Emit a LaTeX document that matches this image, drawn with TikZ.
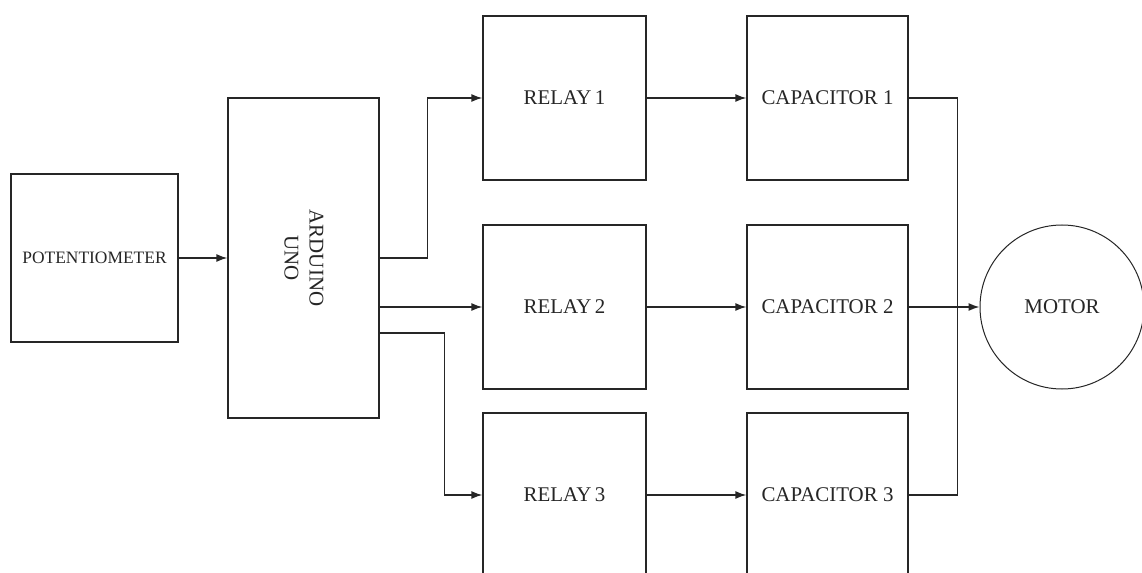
\documentclass[tikz,border=0pt]{standalone}
\usepackage{fontspec}
\setmainfont{Liberation Serif}
\usetikzlibrary{arrows.meta}
\definecolor{ink}{HTML}{262626}
\tikzset{
  blk/.style={draw=ink, line width=1.3bp, fill=white, text=ink, align=center,
    inner sep=0pt, font=\fontsize{21}{25}\selectfont},
  relaybox/.style={blk, minimum width=163bp, minimum height=164bp},
  capbox/.style={blk, minimum width=161bp, minimum height=164bp},
  wire/.style={draw=ink, line width=1.3bp},
  arr/.style={wire, -{Latex[length=11bp,width=8bp]}}
}
\begin{document}
\begin{tikzpicture}[x=1bp, y=-1bp]
\useasboundingbox (0,0) rectangle (1142,573);
\clip (0,0) rectangle (1142,573);

% input and controller
\node[blk, minimum width=167bp, minimum height=168bp, font=\fontsize{17.5}{20}\selectfont]
  (pot) at (94.5,258) {POTENTIOMETER};
\node[blk, minimum width=151bp, minimum height=320bp] (ard) at (303.5,258) {};
\node[text=ink, align=center, rotate=-90, font=\fontsize{21}{25}\selectfont]
  (ardtxt) at (304,258) {ARDUINO\\UNO};

% relay stages
\node[relaybox] (r1) at (564.5,98) {RELAY\,1};
\node[relaybox] (r2) at (564.5,307) {RELAY\,2};
\node[relaybox] (r3) at (564.5,495) {RELAY\,3};

% capacitor stages
\node[capbox] (c1) at (827.5,98) {CAPACITOR 1};
\node[capbox] (c2) at (827.5,307) {CAPACITOR 2};
\node[capbox] (c3) at (827.5,495) {CAPACITOR 3};

% load
\node[blk, circle, minimum size=164bp, line width=1bp] (motor) at (1062,307) {MOTOR};

% signal path
\draw[arr] (pot) -- (ard);
\draw[arr] (ard.east) -- ++(48,0) |- (r1.west);
\draw[arr] (ard.east |- r2.west) -- (r2.west);
\draw[arr] ([yshift=-75bp]ard.east) -- ++(65,0) |- (r3.west);

\draw[arr] (r1) -- (c1);
\draw[arr] (r2) -- (c2);
\draw[arr] (r3) -- (c3);

% capacitor outputs joined to the motor
\draw[wire] (c1.east) -- ++(49,0) coordinate (bus) |- (c3.east);
\draw[arr] (c2) -- (motor);
\end{tikzpicture}
\end{document}
